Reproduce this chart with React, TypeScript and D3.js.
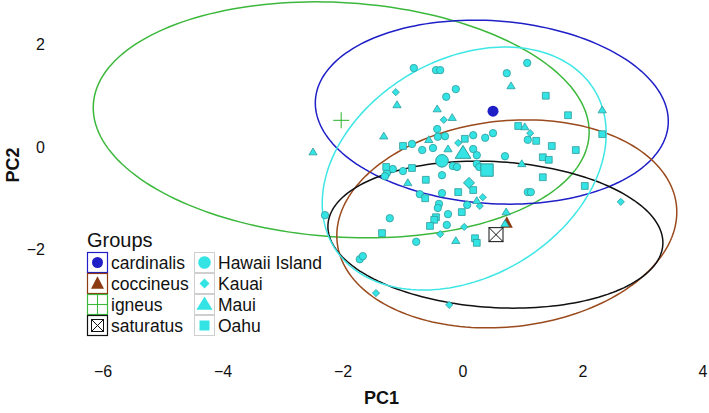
import React from "react";
import * as d3 from "d3";

const W = 709;
const H = 413;

const xTicks = [-6, -4, -2, 0, 2, 4];
const yTicks = [-2, 0, 2];

// Island observations [PC1, PC2]
const hawaiiIsland: [number, number][] = [
  [-0.82, 1.54], [-0.45, 1.5], [-0.38, 1.5], [0.73, 1.44], [1.07, 1.64], [-0.12, 1.13],
  [-0.28, 0.98], [-0.43, 0.35], [-0.3, 0.21], [-0.42, 0.2], [0.17, 0.23], [0.5, 0.27],
  [0.37, 0.18], [-0.85, 0.06], [-0.68, -0.06], [-0.5, -0.02], [0.17, -0.04], [0.23, -0.16],
  [0.7, -0.18], [-0.17, -0.37], [-0.1, -0.39], [0.23, -0.33], [0.27, -0.39], [-1.17, -0.43],
  [-1.27, -0.51], [-1.3, -0.57], [-1.0, -0.47], [-0.35, -0.55], [-0.35, -0.9], [-0.72, -0.92],
  [0.07, -1.13], [-0.4, -1.11], [-0.42, -1.19], [-0.25, -1.31], [-1.22, -1.39], [-0.27, -1.52],
  [-0.78, -1.85], [-2.3, -1.33], [-1.72, -2.19], [-1.67, -2.13], [1.08, -0.88], [1.13, -0.88],
  [1.08, 0.14],
];
const kauai: [number, number][] = [
  [-1.12, 1.07], [-0.32, 0.53], [-0.08, 0.08], [1.12, 0.27], [0.33, -0.98], [0.28, -1.15],
  [0.02, -1.56], [-0.38, -1.7], [2.63, -1.07], [-1.45, -2.85], [-0.23, -3.08],
];
const maui: [number, number][] = [
  [0.8, 1.19], [-1.1, 0.82], [-0.43, 0.74], [-0.18, 0.57], [2.32, 0.72], [-1.32, 0.21],
  [-2.5, -0.1], [-0.57, 0.14], [-0.25, -0.04], [1.03, 0.39], [0.98, -0.33], [-0.92, -0.7],
  [0.23, -1.05], [0.72, -1.27], [0.7, -1.5], [-0.12, -1.83],
];
const oahu: [number, number][] = [
  [1.38, 1.0], [1.75, 0.62], [2.32, 0.25], [0.92, 0.41], [0.03, 0.16], [-1.0, 0.02],
  [1.22, 0.12], [1.48, 0.02], [1.88, -0.06], [1.33, -0.2], [1.43, -0.25], [-1.28, -0.39],
  [-0.85, -0.41], [-0.62, -0.64], [0.17, -0.84], [-0.08, -0.88], [-0.63, -1.0], [1.33, -0.59],
  [2.03, -0.76], [-0.02, -1.27], [-0.45, -1.37], [-0.48, -1.42], [-0.55, -1.54], [-1.35, -1.68],
  [0.2, -1.78], [0.23, -1.87],
];

// Island centroids
const islandNames = ["Hawaii Island", "Kauai", "Maui", "Oahu"];
const islandShapes = ["circle", "diamond", "triangle", "square"];
const islandCentroids: [number, number][] = [[-0.35, -0.27], [0.1, -0.7], [0.0, -0.12], [0.4, -0.45]];

// Groups
const groupNames = ["cardinalis", "coccineus", "igneus", "saturatus"];
const groupColors = ["#1f1fc8", "#8b3a12", "#3cb83c", "#111111"];
const groupCentroids: [number, number][] = [[0.5, 0.7], [0.73, -1.48], [-2.03, 0.52], [0.55, -1.71]];

// Ellipses: centre + shape matrix (data units)
const ellipseNames = ["igneus", "cardinalis", "coccineus", "saturatus", "islands"];
const ellipseColors = ["#3cb83c", "#1f1fc8", "#9a4a1c", "#111111", "#3ee6e6"];
const ellipseCentres: [number, number][] = [[-2.03, 0.53], [0.48, 0.68], [0.73, -1.5], [0.54, -1.71], [0.02, -0.42]];
const ellipseShapes: [number, number, number][] = [
  [17.08, 5.3, -0.976],
  [8.653, 3.222, -0.52],
  [8.028, 4.118, 0.65],
  [7.793, 2.057, -0.442],
  [5.601, 5.62, 1.616],
];

const CYAN = "#34e4e4";
const CYAN_STROKE = "#2f9c9c";

function shapePath(shape: string, cx: number, cy: number, r: number): string {
  if (shape === "circle") {
    return `M${cx - r},${cy}a${r},${r} 0 1,0 ${2 * r},0a${r},${r} 0 1,0 ${-2 * r},0Z`;
  }
  if (shape === "square") {
    return `M${cx - r},${cy - r}h${2 * r}v${2 * r}h${-2 * r}Z`;
  }
  if (shape === "diamond") {
    return `M${cx},${cy - r}L${cx + r},${cy}L${cx},${cy + r}L${cx - r},${cy}Z`;
  }
  // triangle
  const h = r * 1.9;
  return `M${cx},${cy - h * 0.6}L${cx + r * 1.15},${cy + h * 0.4}L${cx - r * 1.15},${cy + h * 0.4}Z`;
}

export default function App() {
  const x = d3.scaleLinear().domain([-6, 4]).range([103, 703]);
  const y = d3.scaleLinear().domain([-2, 2]).range([249.5, 44.5]);

  const ellipsePath = (c: [number, number], s: [number, number, number]) => {
    const l11 = Math.sqrt(s[0]);
    const l21 = s[2] / l11;
    const l22 = Math.sqrt(s[1] - l21 * l21);
    const pts: [number, number][] = d3.range(0, 361, 2).map((deg) => {
      const t = (deg * Math.PI) / 180;
      const u = Math.cos(t);
      const v = Math.sin(t);
      return [x(c[0] + l11 * u), y(c[1] + l21 * u + l22 * v)];
    });
    return d3.line()(pts) + "Z";
  };

  const islandData = [hawaiiIsland, kauai, maui, oahu];
  const smallR = [3.7, 3.6, 3.6, 3.4];
  const bigR = [6.3, 5.5, 6.8, 6.2];

  const legendFont = "'Liberation Sans', Arial, sans-serif";

  const groupMarker = (i: number, cx: number, cy: number, big: boolean) => {
    const col = groupColors[i];
    if (i === 0) return <circle cx={cx} cy={cy} r={big ? 5.5 : 5.5} fill={col} />;
    if (i === 1) {
      const r = big ? 6 : 6.5;
      return <path d={`M${cx},${cy - r * 1.1}L${cx + r},${cy + r * 0.8}L${cx - r},${cy + r * 0.8}Z`} fill={col} />;
    }
    if (i === 2) {
      const r = big ? 8 : 10;
      return (
        <g stroke={col} strokeWidth={1.1}>
          <line x1={cx - r} x2={cx + r} y1={cy} y2={cy} />
          <line x1={cx} x2={cx} y1={cy - r} y2={cy + r} />
        </g>
      );
    }
    const r = big ? 7 : 6;
    return (
      <g stroke={col} strokeWidth={1} fill={big ? "white" : "none"}>
        <rect x={cx - r} y={cy - r} width={2 * r} height={2 * r} />
        <line x1={cx - r} y1={cy - r} x2={cx + r} y2={cy + r} />
        <line x1={cx - r} y1={cy + r} x2={cx + r} y2={cy - r} />
      </g>
    );
  };

  return (
    <svg width={W} height={H} style={{ position: "absolute", left: 0, top: 0, background: "white" }}>
      {/* tick labels */}
      {xTicks.map((t) => (
        <text key={"x" + t} x={x(t)} y={377} textAnchor="middle" fontSize={16} fontFamily={legendFont} fill="#111">
          {t < 0 ? "\u2212" + Math.abs(t) : String(t)}
        </text>
      ))}
      {yTicks.map((t) => (
        <text key={"y" + t} x={45} y={y(t) + 5.5} textAnchor="end" fontSize={16} fontFamily={legendFont} fill="#111">
          {t < 0 ? "\u2212" + Math.abs(t) : String(t)}
        </text>
      ))}
      <text x={381.5} y={404} textAnchor="middle" fontSize={18} fontWeight="bold" fontFamily={legendFont} fill="#111">
        PC1
      </text>
      <text
        transform={`translate(19,165) rotate(-90)`}
        textAnchor="middle"
        fontSize={18}
        fontWeight="bold"
        fontFamily={legendFont}
        fill="#111"
      >
        PC2
      </text>

      {/* ellipses */}
      {ellipseNames.map((n, i) => (
        <path
          key={n}
          d={ellipsePath(ellipseCentres[i], ellipseShapes[i])}
          fill="none"
          stroke={ellipseColors[i]}
          strokeWidth={1.5}
        />
      ))}

      {/* group centroids */}
      {groupCentroids.map((c, i) => (
        <g key={"gc" + i}>{groupMarker(i, x(c[0]), y(c[1]), true)}</g>
      ))}

      {/* island points */}
      {islandData.map((pts, k) =>
        pts.map((p, j) => (
          <path
            key={k + "-" + j}
            d={shapePath(islandShapes[k], x(p[0]), y(p[1]), smallR[k])}
            fill={CYAN}
            stroke={CYAN_STROKE}
            strokeWidth={0.8}
          />
        ))
      )}

      {/* island centroids */}
      {islandCentroids.map((c, k) => (
        <path
          key={"ic" + k}
          d={shapePath(islandShapes[k], x(c[0]), y(c[1]), bigR[k])}
          fill={CYAN}
          stroke={CYAN_STROKE}
          strokeWidth={1}
        />
      ))}

      {/* legend */}
      <text x={87} y={247} fontSize={20} fontFamily={legendFont} fill="#111">
        Groups
      </text>
      {groupNames.map((n, i) => {
        const top = 252 + 21 * i;
        return (
          <g key={"lg" + n}>
            <rect x={87.5} y={top + 0.5} width={20} height={20} fill="white" stroke={groupColors[i]} strokeWidth={1.2} />
            {groupMarker(i, 97.5, top + 10.5, false)}
            <text x={111} y={top + 16.5} fontSize={17.5} fontFamily={legendFont} fill="#111">
              {n}
            </text>
          </g>
        );
      })}
      {islandNames.map((n, k) => {
        const top = 252 + 21 * k;
        const rr = [6.3, 5, 7, 5][k];
        return (
          <g key={"li" + n}>
            <rect x={194.5} y={top + 0.5} width={20} height={20} fill="white" stroke="#cfcfcf" strokeWidth={1} />
            <path d={shapePath(islandShapes[k], 204.5, top + 10.5, rr)} fill={CYAN} />
            <text x={218} y={top + 16.5} fontSize={17.5} fontFamily={legendFont} fill="#111">
              {n}
            </text>
          </g>
        );
      })}
    </svg>
  );
}
